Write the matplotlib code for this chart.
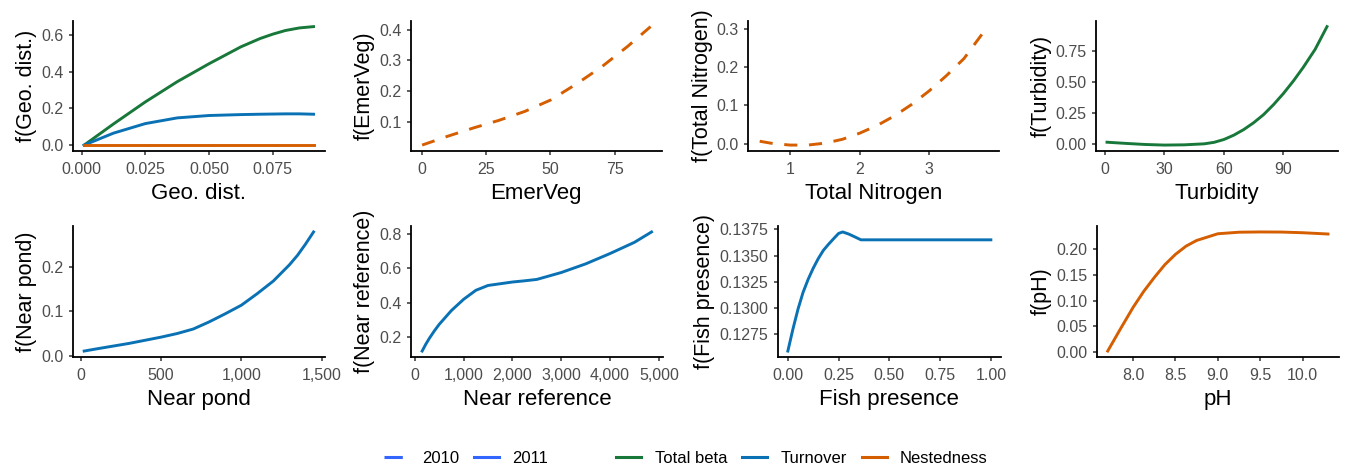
import matplotlib
matplotlib.use("Agg")
import matplotlib.pyplot as plt
from matplotlib.lines import Line2D
from matplotlib.ticker import FuncFormatter

plt.rcParams['font.family'] = ['Liberation Sans', 'DejaVu Sans']

GREEN = '#18783A'
BLUE = '#0A72B4'
ORANGE = '#D55E00'

# --- data ---
geo_x = [0.001, 0.0125, 0.025, 0.0375, 0.05, 0.0625, 0.07, 0.075, 0.08, 0.0855, 0.091]
geo_total = [0.0, 0.115, 0.235, 0.345, 0.443, 0.535, 0.580, 0.604, 0.624, 0.638, 0.645]
geo_turn = [0.0, 0.065, 0.117, 0.148, 0.161, 0.166, 0.168, 0.169, 0.170, 0.170, 0.168]
geo_nest = [0.0, 0.0, 0.0, 0.0, 0.0, 0.0, 0.0, 0.0, 0.0, 0.0, 0.0]

emer_x = [0, 10, 20, 30, 40, 50, 60, 70, 80, 89]
emer_y = [0.023, 0.052, 0.079, 0.104, 0.133, 0.170, 0.222, 0.279, 0.345, 0.41]

tn_x = [0.56, 0.75, 1.0, 1.25, 1.5, 1.75, 2.0, 2.25, 2.5, 2.75, 3.0, 3.25, 3.5, 3.84]
tn_y = [0.007, 0.001, -0.003, -0.003, 0.002, 0.012, 0.028, 0.048, 0.073, 0.103,
        0.138, 0.178, 0.222, 0.305]

turb_x = [1, 10, 20, 30, 40, 50, 55, 60, 65, 70, 75, 80, 85, 90, 95, 100, 106, 112]
turb_y = [0.013, 0.004, -0.005, -0.010, -0.008, 0.0, 0.012, 0.035, 0.070, 0.115,
          0.170, 0.235, 0.315, 0.405, 0.505, 0.615, 0.760, 0.943]

pond_x = [20, 100, 200, 300, 400, 500, 600, 700, 800, 900, 1000, 1100, 1200,
          1300, 1350, 1400, 1450]
pond_y = [0.012, 0.017, 0.023, 0.029, 0.036, 0.043, 0.051, 0.061, 0.077, 0.095,
          0.114, 0.140, 0.168, 0.204, 0.225, 0.250, 0.277]

ref_x = [150, 225, 300, 400, 500, 750, 1000, 1250, 1500, 1750, 2000, 2250, 2500,
         3000, 3500, 4000, 4500, 4850]
ref_y = [0.12, 0.16, 0.195, 0.237, 0.275, 0.355, 0.42, 0.472, 0.500, 0.510,
         0.520, 0.527, 0.535, 0.575, 0.625, 0.685, 0.75, 0.81]

fish_x = [0.0, 0.025, 0.05, 0.075, 0.10, 0.125, 0.15, 0.175, 0.20, 0.225, 0.25,
          0.27, 0.30, 0.33, 0.36, 0.5, 0.75, 1.0]
fish_y = [0.12591, 0.1280, 0.1299, 0.1315, 0.13274, 0.1338, 0.13472, 0.1355,
          0.13607, 0.1366, 0.13711, 0.13725, 0.13705, 0.13678, 0.1365, 0.1365,
          0.1365, 0.1365]

ph_x = [7.7, 7.85, 8.0, 8.125, 8.25, 8.375, 8.5, 8.625, 8.75, 9.0, 9.25, 9.5,
        9.75, 10.0, 10.3]
ph_y = [0.002, 0.045, 0.087, 0.118, 0.145, 0.170, 0.19, 0.206, 0.217, 0.230,
        0.233, 0.2335, 0.2333, 0.232, 0.2295]

W, H = 1347, 469
fig = plt.figure(figsize=(W / 100, H / 100), dpi=100)


def px_axes(left, right, top, bottom):
    return fig.add_axes([left / W, 1 - bottom / H, (right - left) / W, (bottom - top) / H])


def style(ax, xlabel, ylabel, xticks, yticks, xfmt, yfmt):
    for s in ['top', 'right']:
        ax.spines[s].set_visible(False)
    for s in ['left', 'bottom']:
        ax.spines[s].set_linewidth(1.3)
        ax.spines[s].set_color('black')
    ax.set_xticks(xticks)
    ax.set_yticks(yticks)
    ax.xaxis.set_major_formatter(FuncFormatter(xfmt))
    ax.yaxis.set_major_formatter(FuncFormatter(yfmt))
    ax.tick_params(direction='out', length=3.2, width=1.1, color='#333333',
                   labelcolor='#4D4D4D', labelsize=11.5)
    ax.tick_params(axis='x', pad=5)
    ax.tick_params(axis='y', pad=3.5)
    ax.set_xlabel(xlabel, fontsize=16, labelpad=4)
    ax.set_ylabel(ylabel, fontsize=15.5, labelpad=3)


f0 = lambda v, p: f"{v:.0f}"
f1 = lambda v, p: f"{v:.1f}"
f2 = lambda v, p: f"{v:.2f}"
f3 = lambda v, p: f"{v:.3f}"
f4 = lambda v, p: f"{v:.4f}"
fc = lambda v, p: f"{v:,.0f}"

LW = 2.1
DASH = (0, (4.5, 4))

# row 1
ax = px_axes(72.7, 325, 20.7, 151)
ax.plot(geo_x, geo_total, color=GREEN, lw=LW)
ax.plot(geo_x, geo_turn, color=BLUE, lw=LW)
ax.plot(geo_x, geo_nest, color=ORANGE, lw=LW)
style(ax, 'Geo. dist.', 'f(Geo. dist.)', [0, 0.025, 0.05, 0.075], [0, 0.2, 0.4, 0.6], f3, f1)

ax = px_axes(410.7, 662, 20.7, 151)
ax.plot(emer_x, emer_y, color=ORANGE, lw=LW, ls=DASH)
style(ax, 'EmerVeg', 'f(EmerVeg)', [0, 25, 50, 75], [0.1, 0.2, 0.3, 0.4], f0, f1)

ax = px_axes(748.3, 999, 20.7, 151)
ax.plot(tn_x, tn_y, color=ORANGE, lw=LW, ls=DASH)
style(ax, 'Total Nitrogen', 'f(Total Nitrogen)', [1, 2, 3], [0, 0.1, 0.2, 0.3], f0, f1)

ax = px_axes(1096, 1338, 20.7, 151)
ax.plot(turb_x, turb_y, color=GREEN, lw=LW)
style(ax, 'Turbidity', 'f(Turbidity)', [0, 30, 60, 90], [0, 0.25, 0.5, 0.75], f0, f2)

# row 2
ax = px_axes(72.7, 325, 226, 357)
ax.plot(pond_x, pond_y, color=BLUE, lw=LW)
style(ax, 'Near pond', 'f(Near pond)', [0, 500, 1000, 1500], [0, 0.1, 0.2], fc, f1)

ax = px_axes(410.7, 663, 226, 357)
ax.plot(ref_x, ref_y, color=BLUE, lw=LW)
style(ax, 'Near reference', 'f(Near reference)', [0, 1000, 2000, 3000, 4000, 5000],
      [0.2, 0.4, 0.6, 0.8], fc, f1)

ax = px_axes(777.7, 1001, 226, 357)
ax.plot(fish_x, fish_y, color=BLUE, lw=LW)
style(ax, 'Fish presence', 'f(Fish presence)', [0, 0.25, 0.5, 0.75, 1.0],
      [0.1275, 0.13, 0.1325, 0.135, 0.1375], f2, f4)

ax = px_axes(1096.7, 1339, 226, 357)
ax.plot(ph_x, ph_y, color=ORANGE, lw=LW)
style(ax, 'pH', 'f(pH)', [8.0, 8.5, 9.0, 9.5, 10.0], [0, 0.05, 0.1, 0.15, 0.2], f1, f2)

# legends
year_handles = [Line2D([], [], color='#3366FF', lw=2.2, ls=(0, (6, 6))),
                Line2D([], [], color='#3366FF', lw=2.2)]
fig.legend(year_handles, ['2010', '2011'], loc='center',
           bbox_to_anchor=(466 / W, 1 - 458 / H), ncol=2, frameon=False,
           fontsize=12, handlelength=1.5, handletextpad=0.8, columnspacing=0.9)

comp_handles = [Line2D([], [], color=GREEN, lw=2.2),
                Line2D([], [], color=BLUE, lw=2.2),
                Line2D([], [], color=ORANGE, lw=2.2)]
fig.legend(comp_handles, ['Total beta', 'Turnover', 'Nestedness'], loc='center',
           bbox_to_anchor=(802 / W, 1 - 458 / H), ncol=3, frameon=False,
           fontsize=12, handlelength=1.5, handletextpad=0.8, columnspacing=0.9)

fig.savefig('out.png', dpi=100)
